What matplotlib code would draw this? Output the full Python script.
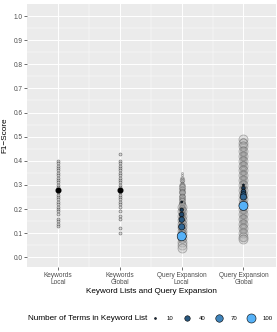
import numpy as np
import matplotlib
matplotlib.use("Agg")
import matplotlib.pyplot as plt
from matplotlib.lines import Line2D
from matplotlib.colors import LinearSegmentedColormap, Normalize

plt.rcParams['font.family'] = ['Liberation Sans', 'DejaVu Sans']

# categories on the x axis
categories = ["Keywords\nLocal", "Keywords\nGlobal", "Query Expansion\nLocal", "Query Expansion\nGlobal"]

# keyword lists: one score per query, plus the mean
kw_local = [0.40, 0.39, 0.38, 0.37, 0.36, 0.35, 0.34, 0.33, 0.32, 0.31, 0.30, 0.29,
            0.28, 0.27, 0.26, 0.25, 0.24, 0.23, 0.22, 0.21, 0.20, 0.19, 0.18, 0.16,
            0.15, 0.14, 0.13]
kw_global = [0.43, 0.40, 0.39, 0.38, 0.37, 0.36, 0.35, 0.34, 0.33, 0.32, 0.31, 0.30,
             0.29, 0.28, 0.27, 0.26, 0.25, 0.24, 0.23, 0.22, 0.21, 0.19, 0.17, 0.16,
             0.12, 0.10]
kw_means = [0.28, 0.278]

# query expansion: number of terms -> scores
n_terms = [10, 20, 30, 40, 50, 100]
qe_local = {
    10: [0.35, 0.34, 0.33, 0.32, 0.31, 0.30, 0.29, 0.28, 0.27, 0.26, 0.25, 0.24, 0.23, 0.22, 0.21, 0.20],
    20: [0.33, 0.315, 0.30, 0.285, 0.27, 0.255, 0.24, 0.225, 0.21, 0.195, 0.18, 0.165, 0.15],
    30: [0.32, 0.30, 0.285, 0.27, 0.255, 0.24, 0.225, 0.21, 0.195, 0.18, 0.165, 0.15, 0.135, 0.12],
    40: [0.30, 0.285, 0.27, 0.255, 0.24, 0.225, 0.21, 0.195, 0.18, 0.165, 0.15, 0.135, 0.12, 0.105, 0.09],
    50: [0.29, 0.27, 0.25, 0.235, 0.22, 0.205, 0.19, 0.175, 0.16, 0.145, 0.13, 0.115, 0.10, 0.085, 0.07],
    100: [0.21, 0.19, 0.17, 0.155, 0.14, 0.125, 0.11, 0.095, 0.08, 0.065, 0.05, 0.04],
}
qe_global = {
    10: [0.40, 0.38, 0.36, 0.34, 0.32, 0.30, 0.28, 0.26, 0.24, 0.22, 0.20, 0.18],
    20: [0.43, 0.41, 0.39, 0.37, 0.35, 0.33, 0.31, 0.29, 0.27, 0.25, 0.23, 0.21, 0.19, 0.17, 0.15],
    30: [0.45, 0.43, 0.41, 0.39, 0.37, 0.35, 0.33, 0.31, 0.29, 0.27, 0.25, 0.23, 0.21, 0.19, 0.17,
         0.15, 0.13],
    40: [0.47, 0.45, 0.43, 0.41, 0.39, 0.37, 0.35, 0.33, 0.31, 0.29, 0.27, 0.25, 0.23, 0.21, 0.19,
         0.17, 0.15, 0.13, 0.11],
    50: [0.48, 0.46, 0.44, 0.42, 0.40, 0.38, 0.36, 0.34, 0.32, 0.30, 0.28, 0.26, 0.24, 0.22, 0.20,
         0.18, 0.16, 0.14, 0.12, 0.10, 0.08],
    100: [0.49, 0.475, 0.46, 0.44, 0.42, 0.40, 0.38, 0.36, 0.34, 0.32, 0.30, 0.28, 0.26, 0.24, 0.22,
          0.20, 0.18, 0.16, 0.14, 0.12, 0.10, 0.085, 0.075],
}
qe_local_means = [0.229, 0.197, 0.177, 0.156, 0.126, 0.087]
qe_global_means = [0.30, 0.287, 0.273, 0.26, 0.25, 0.213]

legend_terms = [10, 40, 70, 100]

cmap = LinearSegmentedColormap.from_list("gg", ["#132B43", "#56B1F7"])
norm = Normalize(10, 100)


def size_of(n):
    return 2 + (n - 10) * 0.45


fig = plt.figure(figsize=(2.77, 3.32), dpi=100)
ax = fig.add_axes([0.099, 0.196, 0.898, 0.792])
ax.set_facecolor("#EBEBEB")

# keyword lists
for x, vals in [(1, kw_local), (2, kw_global)]:
    ax.scatter([x] * len(vals), vals, s=4.5, facecolor=(0.75, 0.75, 0.75, 0.5),
               edgecolor=(0.25, 0.25, 0.25, 0.7), linewidth=0.45, zorder=3)
ax.scatter([1, 2], kw_means, s=11, color="black", zorder=4)

# query expansion points, grey
for x, data in [(3, qe_local), (4, qe_global)]:
    for n in n_terms:
        ax.scatter([x] * len(data[n]), data[n], s=size_of(n),
                   facecolor=(0.7, 0.7, 0.7, 0.33), edgecolor=(0.2, 0.2, 0.2, 0.38),
                   linewidth=0.5, zorder=3)

# query expansion means, coloured by number of terms
for x, means in [(3, qe_local_means), (4, qe_global_means)]:
    ax.scatter([x] * len(n_terms), means, s=[size_of(n) for n in n_terms],
               c=[cmap(norm(n)) for n in n_terms], edgecolor="black",
               linewidth=0.4, zorder=5)

ax.set_xlim(0.5, 4.53)
ax.set_ylim(-0.04, 1.05)
ax.set_xticks([1, 2, 3, 4])
ax.set_xticklabels(categories, fontsize=4.7, color="#4D4D4D", linespacing=0.95)
ax.set_xticks([1.5, 2.5, 3.5], minor=True)
ax.set_yticks(np.arange(0, 1.01, 0.1))
ax.set_yticklabels([f"{v:.1f}" for v in np.arange(0, 1.01, 0.1)], fontsize=4.7, color="#4D4D4D")
ax.set_yticks(np.arange(0.05, 1.0, 0.1), minor=True)
ax.tick_params(which="major", length=2, width=0.5, color="#333333", pad=1.5)
ax.tick_params(which="minor", length=0)
ax.grid(which="major", color="white", linewidth=0.7)
ax.grid(which="minor", color="white", linewidth=0.35)
ax.set_axisbelow(True)
for sp in ax.spines.values():
    sp.set_visible(False)

ax.set_xlabel("Keyword Lists and Query Expansion", fontsize=5.85, labelpad=2)
ax.set_ylabel("F1\u2212Score", fontsize=5.85, labelpad=4)

# legend
handles = [Line2D([], [], marker="o", linestyle="", markersize=np.sqrt(size_of(n)),
                  markerfacecolor=cmap(norm(n)), markeredgecolor="black",
                  markeredgewidth=0.4) for n in legend_terms]
fig.text(0.1, 0.042, "Number of Terms in Keyword List", fontsize=5.85, va="center")
leg = fig.legend(handles, [str(n) for n in legend_terms], loc="center left",
                 bbox_to_anchor=(0.536, 0.042), ncol=4, frameon=False,
                 fontsize=4.3, handlelength=2.2, handletextpad=0.85,
                 columnspacing=1.15, borderpad=0, borderaxespad=0)

fig.savefig("out.png", dpi=100)
